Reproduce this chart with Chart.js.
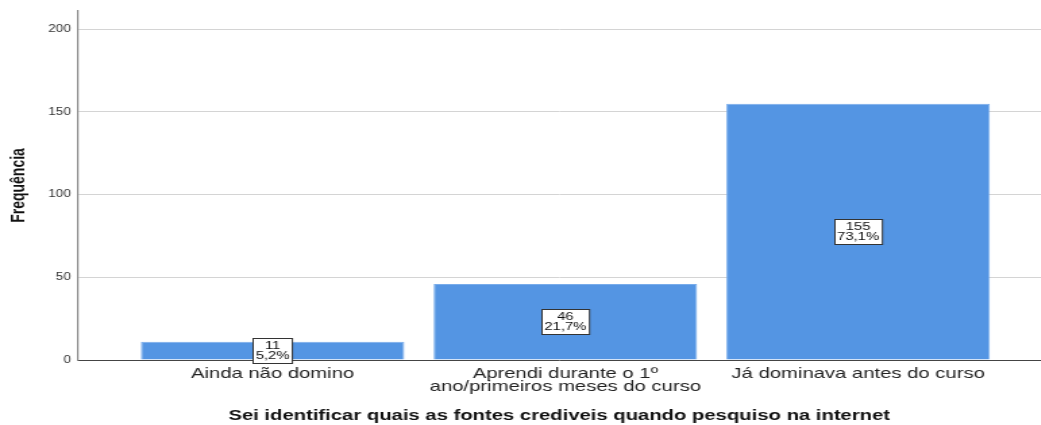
<!DOCTYPE html>
<html>
<head>
<meta charset="utf-8">
<script src="https://cdn.jsdelivr.net/npm/chart.js@4/dist/chart.umd.min.js"></script>
<style>
  html, body { margin: 0; padding: 0; background: #fff; overflow: hidden; }
  /* the reference is a horizontally stretched SPSS export, so draw narrow and stretch */
  #wrap { width: 771px; height: 425px; transform: scaleX(1.35); transform-origin: 0 0; }
</style>
</head>
<body>
<div id="wrap"><canvas id="freqChart"></canvas></div>
<script>
// categories and values
const categories = [
    ['Ainda não domino'],
    ['Aprendi durante o 1º', 'ano/primeiros meses do curso'],
    ['Já dominava antes do curso']
];
const counts = [11, 46, 155];
const percents = ['5,2%', '21,7%', '73,1%'];
const yTicks = [0, 50, 100, 150, 200];

// box with count + percent in the middle of each bar
const boxLabels = {
    id: 'boxLabels',
    afterDatasetsDraw(chart) {
        const c = chart.ctx;
        const meta = chart.getDatasetMeta(0);
        c.save();
        c.font = '11px Arial, "Liberation Sans", sans-serif';
        c.textAlign = 'center';
        c.textBaseline = 'middle';
        meta.data.forEach((bar, i) => {
            const cy = (bar.y + bar.base) / 2;
            const l1 = String(counts[i]);
            const l2 = percents[i];
            const w = Math.max(c.measureText(l1).width, c.measureText(l2).width) + 4;
            const h = 25;
            const x0 = Math.round(bar.x - w / 2) + 0.5;
            const y0 = Math.round(cy - h / 2) + 0.5;
            c.fillStyle = '#fff';
            c.fillRect(x0, y0, w, h);
            c.strokeStyle = '#333';
            c.lineWidth = 1;
            c.strokeRect(x0, y0, w, h);
            c.fillStyle = '#111';
            c.fillText(l1, bar.x, cy - 5);
            c.fillText(l2, bar.x, cy + 5.5);
        });
        c.restore();
    }
};

const ctx = document.getElementById('freqChart').getContext('2d');
const freqChart = new Chart(ctx, {
    type: 'bar',
    data: {
        datasets: [{
            data: counts.map((v, i) => ({ x: i, y: v })),
            backgroundColor: 'rgb(84,149,227)',
            borderColor: 'rgb(120,172,235)',
            borderWidth: { top: 1, left: 1, right: 1, bottom: 0 },
            categoryPercentage: 1,
            barPercentage: 0.9
        }]
    },
    options: {
        responsive: true,
        maintainAspectRatio: false,
        animation: false,
        layout: { padding: { top: 8, right: 0, left: 0, bottom: 0 } },
        plugins: {
            legend: { display: false },
            tooltip: { enabled: false }
        },
        scales: {
            x: {
                type: 'linear',
                offset: false,
                min: -0.666,
                max: 2.624,
                grid: { display: false, drawTicks: false },
                border: { color: '#444', width: 1 },
                afterBuildTicks(scale) {
                    scale.ticks = categories.map((_, i) => ({ value: i }));
                },
                ticks: {
                    autoSkip: false,
                    maxRotation: 0,
                    padding: 7,
                    color: '#222',
                    font: { family: 'Arial, "Liberation Sans", sans-serif', size: 15, lineHeight: 0.9 },
                    callback: (v) => categories[v]
                },
                title: {
                    display: true,
                    text: 'Sei identificar quais as fontes crediveis quando pesquiso na internet',
                    color: '#111',
                    font: { family: 'Arial, "Liberation Sans", sans-serif', size: 15, weight: 'bold' },
                    padding: { top: 6, bottom: 0 }
                }
            },
            y: {
                min: 0,
                max: 211,
                afterBuildTicks(scale) {
                    scale.ticks = yTicks.map(v => ({ value: v }));
                },
                grid: { color: '#d4d4d4', drawTicks: false },
                border: { color: '#888', width: 1.2 },
                ticks: {
                    padding: 5,
                    color: '#333',
                    font: { family: 'Arial, "Liberation Sans", sans-serif', size: 10 }
                },
                title: {
                    display: true,
                    text: 'Frequência',
                    color: '#111',
                    font: { family: 'Arial, "Liberation Sans", sans-serif', size: 14, weight: 'bold' },
                    padding: { top: 6, bottom: 8 }
                }
            }
        }
    },
    plugins: [boxLabels]
});
</script>
</body>
</html>
